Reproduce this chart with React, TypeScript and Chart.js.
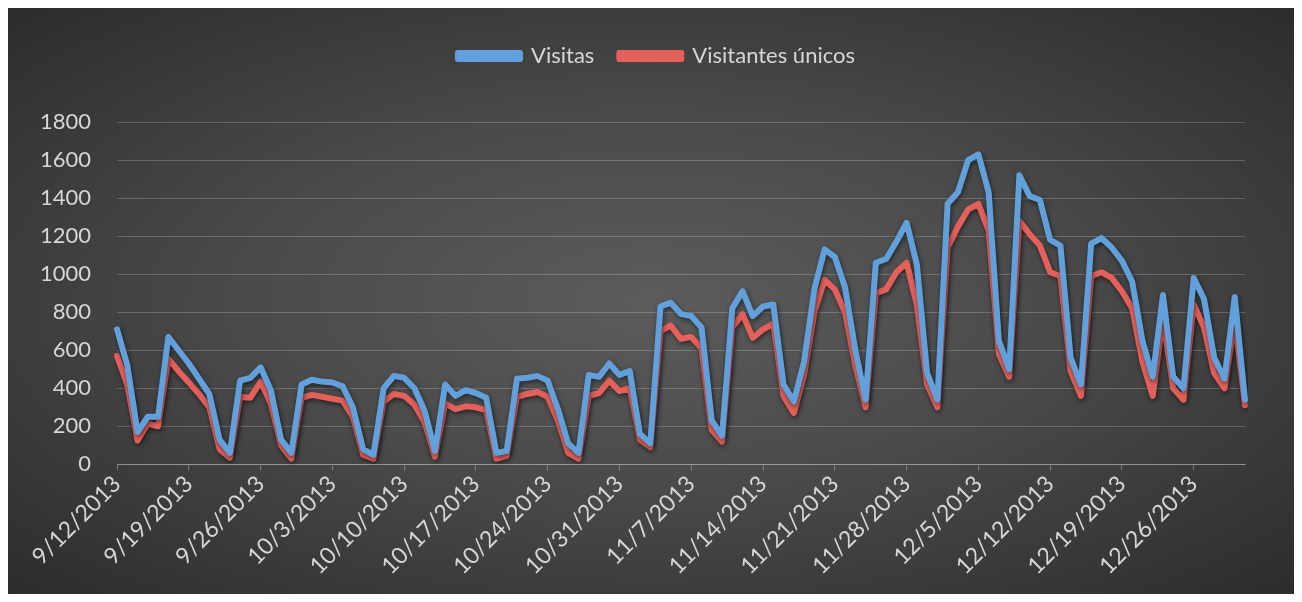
import { useEffect, useRef } from 'react';
import { Chart, registerables } from 'chart.js';

Chart.register(...registerables);

const dateLabels: string[] = [
  '9/12/2013', '9/13/2013', '9/14/2013', '9/15/2013', '9/16/2013', '9/17/2013', '9/18/2013',
  '9/19/2013', '9/20/2013', '9/21/2013', '9/22/2013', '9/23/2013', '9/24/2013', '9/25/2013',
  '9/26/2013', '9/27/2013', '9/28/2013', '9/29/2013', '9/30/2013', '10/1/2013', '10/2/2013',
  '10/3/2013', '10/4/2013', '10/5/2013', '10/6/2013', '10/7/2013', '10/8/2013', '10/9/2013',
  '10/10/2013', '10/11/2013', '10/12/2013', '10/13/2013', '10/14/2013', '10/15/2013', '10/16/2013',
  '10/17/2013', '10/18/2013', '10/19/2013', '10/20/2013', '10/21/2013', '10/22/2013', '10/23/2013',
  '10/24/2013', '10/25/2013', '10/26/2013', '10/27/2013', '10/28/2013', '10/29/2013', '10/30/2013',
  '10/31/2013', '11/1/2013', '11/2/2013', '11/3/2013', '11/4/2013', '11/5/2013', '11/6/2013',
  '11/7/2013', '11/8/2013', '11/9/2013', '11/10/2013', '11/11/2013', '11/12/2013', '11/13/2013',
  '11/14/2013', '11/15/2013', '11/16/2013', '11/17/2013', '11/18/2013', '11/19/2013', '11/20/2013',
  '11/21/2013', '11/22/2013', '11/23/2013', '11/24/2013', '11/25/2013', '11/26/2013', '11/27/2013',
  '11/28/2013', '11/29/2013', '11/30/2013', '12/1/2013', '12/2/2013', '12/3/2013', '12/4/2013',
  '12/5/2013', '12/6/2013', '12/7/2013', '12/8/2013', '12/9/2013', '12/10/2013', '12/11/2013',
  '12/12/2013', '12/13/2013', '12/14/2013', '12/15/2013', '12/16/2013', '12/17/2013', '12/18/2013',
  '12/19/2013', '12/20/2013', '12/21/2013', '12/22/2013', '12/23/2013', '12/24/2013', '12/25/2013',
  '12/26/2013', '12/27/2013', '12/28/2013', '12/29/2013', '12/30/2013', '12/31/2013',
];

const visitas: number[] = [
  710, 520, 170, 250, 250, 670, 600,
  530, 450, 370, 130, 60, 440, 455,
  510, 390, 130, 60, 420, 445, 435,
  430, 410, 300, 80, 50, 400, 465,
  455, 400, 280, 70, 420, 360, 390,
  375, 350, 60, 70, 450, 455, 465,
  440, 290, 110, 60, 470, 460, 530,
  470, 490, 160, 110, 830, 850, 790,
  780, 720, 230, 150, 820, 910, 780,
  830, 840, 420, 330, 540, 920, 1130,
  1090, 930, 600, 340, 1060, 1080, 1170,
  1270, 1050, 480, 340, 1370, 1430, 1600,
  1630, 1430, 650, 500, 1520, 1410, 1390,
  1180, 1150, 560, 420, 1160, 1190, 1140,
  1070, 960, 650, 460, 890, 460, 400,
  980, 870, 560, 450, 880, 340,
];

const visitantesUnicos: number[] = [
  570, 420, 125, 215, 200, 555, 490,
  430, 370, 300, 80, 35, 355, 350,
  435, 320, 100, 30, 350, 365, 355,
  345, 335, 250, 50, 30, 330, 370,
  360, 315, 220, 40, 320, 290, 305,
  300, 285, 30, 45, 355, 370, 380,
  355, 230, 60, 30, 360, 375, 440,
  385, 400, 130, 90, 700, 730, 660,
  670, 610, 180, 120, 720, 790, 665,
  710, 740, 360, 270, 470, 800, 970,
  920, 800, 520, 300, 900, 920, 1010,
  1060, 840, 420, 300, 1140, 1250, 1340,
  1370, 1230, 580, 460, 1280, 1210, 1150,
  1010, 990, 490, 360, 990, 1010, 980,
  910, 820, 540, 360, 770, 400, 340,
  840, 720, 480, 400, 760, 310,
];

const yMin = 0;
const yMax = 1800;
const yStep = 200;
const labelEvery = 7;

const BLUE = '#62a0dc';
const RED = '#e4605a';
const TEXT = '#d6d6d6';
const GRID = 'rgba(255,255,255,0.2)';
const FONT = 'Lato, "Open Sans", sans-serif';

const lineShadow = {
  id: 'lineShadow',
  beforeDatasetDraw(chart: any) {
    const ctx = chart.ctx;
    ctx.save();
    ctx.shadowColor = 'rgba(0,0,0,0.55)';
    ctx.shadowBlur = 5;
    ctx.shadowOffsetX = 1;
    ctx.shadowOffsetY = 2;
  },
  afterDatasetDraw(chart: any) {
    chart.ctx.restore();
  },
};

const legendGap = {
  id: 'legendGap',
  beforeInit(chart: any) {
    const legend = chart.legend;
    if (!legend) return;
    const origFit = legend.fit;
    legend.fit = function () {
      origFit.bind(legend)();
      this.height += 45;
    };
  },
  beforeDraw(chart: any) {
    const legend = chart.legend;
    if (!legend) return;
    legend.left += 27;
    legend.right += 27;
  },
};

export default function App() {
  const canvasRef = useRef<HTMLCanvasElement | null>(null);

  useEffect(() => {
    if (!canvasRef.current) return;
    const chart = new Chart(canvasRef.current, {
      type: 'line',
      data: {
        labels: dateLabels,
        datasets: [
          {
            label: 'Visitas',
            data: visitas,
            borderColor: BLUE,
            backgroundColor: BLUE,
            borderWidth: 6,
            pointRadius: 0,
            tension: 0,
            borderJoinStyle: 'round',
            borderCapStyle: 'round',
          },
          {
            label: 'Visitantes únicos',
            data: visitantesUnicos,
            borderColor: RED,
            backgroundColor: RED,
            borderWidth: 6,
            pointRadius: 0,
            tension: 0,
            borderJoinStyle: 'round',
            borderCapStyle: 'round',
          },
        ],
      },
      options: {
        animation: false,
        responsive: true,
        maintainAspectRatio: false,
        layout: { padding: { top: 12, left: 6, right: 49, bottom: 14 } },
        plugins: {
          legend: {
            position: 'top',
            align: 'center',
            labels: {
              color: TEXT,
              font: { family: FONT, size: 22 },
              boxWidth: 62,
              boxHeight: 6,
              padding: 25,
            },
          },
          tooltip: { enabled: false },
        },
        scales: {
          x: {
            offset: false,
            afterFit: (scale: any) => {
              scale.paddingLeft = 0;
              scale.paddingRight = 0;
            },
            grid: {
              display: true,
              drawOnChartArea: false,
              drawTicks: true,
              tickLength: 6,
              color: (ctx: any) => (ctx.index % labelEvery === 0 ? 'rgba(255,255,255,0.3)' : 'rgba(0,0,0,0)'),
            },
            border: { display: true, color: 'rgba(255,255,255,0.3)' },
            ticks: {
              autoSkip: false,
              maxRotation: 45,
              minRotation: 45,
              color: TEXT,
              font: { family: FONT, size: 23 },
              padding: 0,
              callback: (_v: any, index: number) => (index % labelEvery === 0 ? dateLabels[index] : ''),
            },
          },
          y: {
            min: yMin,
            max: yMax,
            grid: { color: GRID, drawTicks: false, lineWidth: 1 },
            border: { display: false },
            ticks: {
              stepSize: yStep,
              color: TEXT,
              font: { family: FONT, size: 22 },
              padding: 26,
              callback: (v: any) => String(v),
            },
          },
        },
      },
      plugins: [lineShadow, legendGap],
    });
    return () => chart.destroy();
  }, []);

  return (
    <div
      style={{
        width: 1286,
        height: 586,
        position: 'relative',
        background: 'radial-gradient(ellipse at 50% 50%, #5c5c5c 0%, #4a4a4a 45%, #2c2c2c 100%)',
      }}
    >
      <canvas ref={canvasRef} />
    </div>
  );
}
